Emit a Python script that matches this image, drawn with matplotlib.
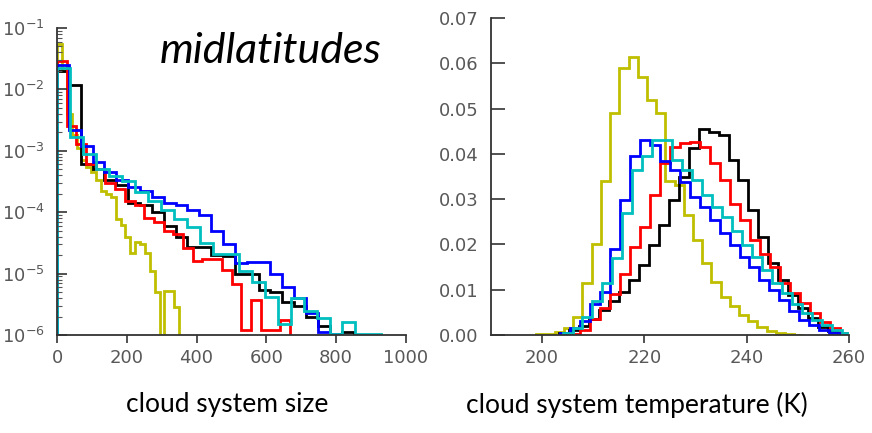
import numpy as np
import matplotlib
matplotlib.use("Agg")
import matplotlib.pyplot as plt

# cloud system size histograms (log density), each run has its own 25-ish bins
size_edges = {
    "y": np.linspace(0, 350, 26),
    "k": np.linspace(0, 850, 26),
    "r": np.linspace(0, 667, 25),
    "b": np.linspace(0, 850, 26),
    "c": np.linspace(0, 930, 26),
}
size_y = [0.054, 0.02, 0.004, 0.0018, 0.0011, 0.0007, 0.00055, 0.00045, 0.00033,
          0.00022, 0.0002, 0.00018, 7.8e-5, 6.1e-5, 4e-5, 2.2e-5, 3.3e-5, 3e-5,
          2.2e-5, 1.1e-5, 5e-6, 0.0, 5.3e-6, 5.3e-6, 2.9e-6]
size_k = [0.02, 0.012, 0.0006, 0.0005, 0.00033, 0.00028, 0.00014, 0.00013, 0.0001,
          6e-5, 4e-5, 2.7e-5, 2.7e-5, 2e-5, 1.9e-5, 1e-5, 1e-5, 5.5e-6, 5e-6,
          3.5e-6, 3e-6, 2e-6, 1.4e-6, 1.05e-6, 1.1e-6]
size_r = [0.029, 0.0025, 0.0013, 0.0006, 0.0005, 0.0003, 0.00024, 0.000155, 0.00013,
          8e-5, 7e-5, 5e-5, 4.5e-5, 2.6e-5, 1.6e-5, 1.7e-5, 1.75e-5, 1.13e-5, 6.9e-6,
          1.2e-6, 3.7e-6, 1.2e-6, 1.2e-6, 1.75e-6]
size_b = [0.025, 0.0022, 0.0012, 0.00065, 0.00045, 0.00033, 0.00026, 0.00022, 0.00018,
          0.00014, 0.00013, 0.00011, 9e-5, 5e-5, 3e-5, 1.5e-5, 1.55e-5, 1.55e-5, 1e-5,
          6e-6, 4e-6, 2.3e-6, 1.1e-6, 1.05e-6, 0.0]
size_c = [0.022, 0.0017, 0.0009, 0.0005, 0.00039, 0.00032, 0.00021, 0.000155, 0.00011,
          7.8e-5, 5.7e-5, 3.2e-5, 2.1e-5, 2.1e-5, 1.1e-5, 7.3e-6, 4.2e-6, 1.5e-6,
          4e-6, 2.5e-6, 1.9e-6, 1.05e-6, 1.6e-6, 1.05e-6, 1.05e-6]

# cloud system temperature histograms (K)
temp_start = {"y": 198.9, "k": 203.3, "r": 205.5, "b": 203.5, "c": 204.0}
temp_width = {"y": 1.8, "k": 1.95, "r": 1.95, "b": 1.95, "c": 1.95}
temp_y = [0.0002, 0.0003, 0.0007, 0.0015, 0.004, 0.0115, 0.020, 0.034, 0.049, 0.059,
          0.0615, 0.057, 0.052, 0.049, 0.034, 0.0331, 0.0265, 0.021, 0.0158, 0.0118,
          0.0085, 0.0063, 0.0044, 0.003, 0.0018, 0.0009, 0.0004, 0.0002, 0.0001]
temp_k = [0.0004, 0.001, 0.002, 0.0035, 0.0055, 0.0075, 0.0095, 0.0121, 0.0155, 0.0199,
          0.0243, 0.0298, 0.035, 0.0412, 0.0456, 0.0449, 0.0442, 0.0386, 0.0342, 0.0276,
          0.0217, 0.0158, 0.0121, 0.0088, 0.0059, 0.0037, 0.0018, 0.0008, 0.0003]
temp_r = [0.0003, 0.0012, 0.0035, 0.006, 0.009, 0.0135, 0.0195, 0.0239, 0.031, 0.038,
          0.0416, 0.0423, 0.0427, 0.0416, 0.038, 0.0342, 0.029, 0.0254, 0.021, 0.018,
          0.015, 0.0114, 0.0092, 0.007, 0.0048, 0.0029, 0.0015, 0.0004]
temp_b = [0.0005, 0.0015, 0.003, 0.0068, 0.0095, 0.019, 0.0298, 0.0395, 0.043, 0.042,
          0.0385, 0.0364, 0.0339, 0.0305, 0.0283, 0.0254, 0.0225, 0.0199, 0.0173, 0.0151,
          0.0121, 0.0099, 0.0077, 0.0052, 0.0033, 0.0022, 0.0011, 0.0004]
temp_c = [0.0005, 0.0015, 0.004, 0.0075, 0.0114, 0.017, 0.027, 0.0364, 0.0395, 0.043,
          0.043, 0.0386, 0.0364, 0.0342, 0.031, 0.0283, 0.026, 0.023, 0.0199, 0.0173,
          0.0143, 0.0115, 0.0092, 0.0068, 0.0048, 0.0033, 0.0022, 0.0012, 0.0005]

order = ["y", "k", "r", "b", "c"]
size_vals = {"y": size_y, "k": size_k, "r": size_r, "b": size_b, "c": size_c}
temp_vals = {"y": temp_y, "k": temp_k, "r": temp_r, "b": temp_b, "c": temp_c}

fig = plt.figure(figsize=(8.72, 4.33), dpi=100)
ax1 = fig.add_axes([0.0654, 0.2263, 0.400, 0.709])
ax2 = fig.add_axes([0.563, 0.2263, 0.4106, 0.732])

lw = 2.0
for key in order:
    ax1.stairs(size_vals[key], size_edges[key], baseline=1e-9, color=key, lw=lw)
    n = len(temp_vals[key])
    edges = temp_start[key] + temp_width[key] * np.arange(n + 1)
    ax2.stairs(temp_vals[key], edges, baseline=0, color=key, lw=lw)

ax1.set_yscale("log")
ax1.set_ylim(1e-6, 1e-1)
ax1.set_xlim(0, 1000)
ax1.set_xticks([0, 200, 400, 600, 800, 1000])

ax2.set_xlim(190, 260)
ax2.set_ylim(0, 0.07)
ax2.set_xticks([200, 220, 240, 260])
ax2.set_yticks(np.arange(0, 0.071, 0.01))
ax2.yaxis.set_major_formatter(matplotlib.ticker.FormatStrFormatter("%.2f"))

grey = "#585858"
for ax in (ax1, ax2):
    for s in ("top", "right"):
        ax.spines[s].set_visible(False)
    for s in ("left", "bottom"):
        ax.spines[s].set_color("#333333")
        ax.spines[s].set_linewidth(1.3)
    ax.tick_params(axis="x", direction="out", length=6, width=1.2, colors="#333333",
                   labelcolor=grey, labelsize=13, pad=4)
    ax.tick_params(axis="y", direction="in", length=7, width=1.2, colors="#333333",
                   labelcolor=grey, labelsize=13, pad=9)
ax1.tick_params(axis="y", which="minor", direction="in", length=3.5, width=0.8, colors="#555555")
ax2.tick_params(axis="y", length=10)

fig.text(0.183, 0.855, "midlatitudes", fontsize=31, style="italic", family="Lato",
         ha="left", va="baseline")
fig.text(0.26, 0.065, "cloud system size", fontsize=19, family="Lato",
         ha="center", va="center")
fig.text(0.73, 0.065, "cloud system temperature (K)", fontsize=19, family="Lato",
         ha="center", va="center")

fig.savefig("out.png", dpi=100)
